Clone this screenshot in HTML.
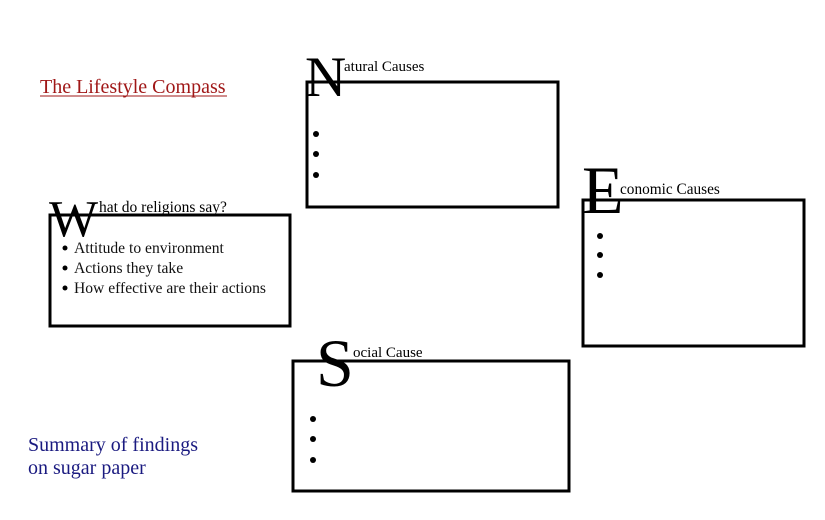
<!DOCTYPE html>
<html><head><meta charset="utf-8"><style>html,body{margin:0;padding:0;background:#fff;width:825px;height:520px;overflow:hidden}</style></head>
<body>
<svg width="825" height="520" xmlns="http://www.w3.org/2000/svg" font-family="Liberation Serif, serif">
<g fill="none" stroke="#000" stroke-width="3">
<rect x="307" y="82" width="251" height="125"/>
<rect x="50" y="215" width="240" height="111"/>
<rect x="583" y="200" width="221" height="146"/>
<rect x="293" y="361" width="276" height="130"/>
</g>
<text x="40" y="93" font-size="20" fill="#a01818">The Lifestyle Compass</text>
<line x1="40" y1="96" x2="227" y2="96" stroke="#a01818" stroke-width="1"/>
<text x="28" y="451" font-size="20" fill="#1a1a80">Summary of findings</text>
<text x="28" y="474" font-size="20" fill="#1a1a80">on sugar paper</text>
<text x="305" y="96" font-size="57">N</text>
<text x="344" y="71" font-size="15">atural Causes</text>
<text x="49" y="236" font-size="52">W</text>
<text x="99" y="212" font-size="15.5">hat do religions say?</text>
<text x="582" y="213" font-size="68">E</text>
<text x="620" y="194" font-size="15.3">conomic Causes</text>
<text x="316" y="386" font-size="68">S</text>
<text x="353" y="357" font-size="15">ocial Cause</text>
<g fill="#000">
<circle cx="316" cy="134" r="3"/><circle cx="316" cy="154" r="3"/><circle cx="316" cy="175" r="3"/>
<circle cx="600" cy="236" r="3"/><circle cx="600" cy="255" r="3"/><circle cx="600" cy="275" r="3"/>
<circle cx="313" cy="419" r="3"/><circle cx="313" cy="439" r="3"/><circle cx="313" cy="460" r="3"/>
<circle cx="65" cy="248" r="2.5"/><circle cx="65" cy="268" r="2.5"/><circle cx="65" cy="288" r="2.5"/>
</g>
<g font-size="15.6" fill="#111">
<text x="74" y="253">Attitude to environment</text>
<text x="74" y="273">Actions they take</text>
<text x="74" y="293">How effective are their actions</text>
</g>
</svg>
</body></html>
